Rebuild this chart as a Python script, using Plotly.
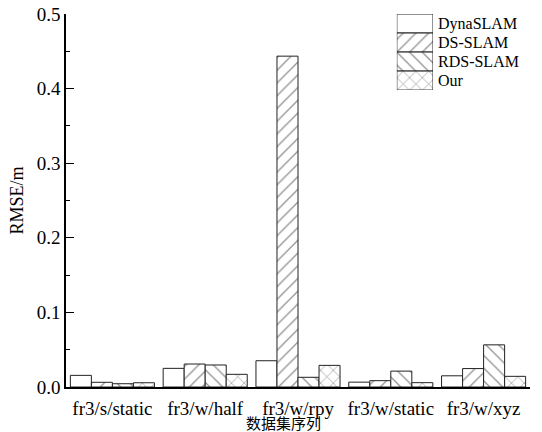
import plotly.graph_objects as go

categories = ["fr3/s/static", "fr3/w/half", "fr3/w/rpy", "fr3/w/static", "fr3/w/xyz"]
series_names = ["DynaSLAM", "DS-SLAM", "RDS-SLAM", "Our"]
dynaslam = [0.0156, 0.0250, 0.0352, 0.0065, 0.0150]
ds_slam = [0.0063, 0.0308, 0.4435, 0.0085, 0.0247]
rds_slam = [0.0044, 0.0295, 0.0130, 0.0213, 0.0565]
ours = [0.0057, 0.0170, 0.0290, 0.0058, 0.0143]
y_ticks = [0.0, 0.1, 0.2, 0.3, 0.4, 0.5]

series_values = [dynaslam, ds_slam, rds_slam, ours]
patterns = ["", "/", "\\", "x"]

SERIF = "Liberation Serif, Times New Roman, Noto Sans CJK SC, serif"
PAT = dict(fgcolor="#222", bgcolor="white", size=9, solidity=0.14)

fig = go.Figure()
for name, vals, pat in zip(series_names, series_values, patterns):
    fig.add_trace(go.Bar(
        x=categories, y=vals, name=name, showlegend=False,
        marker=dict(color="white", line=dict(color="#222", width=1),
                    pattern=dict(shape=pat, **PAT)),
    ))

# legend drawn as a small bar subplot with large hatched swatches
fig.add_trace(go.Bar(
    x=[1] * len(series_names), y=series_names, orientation="h", width=1,
    showlegend=False, xaxis="x2", yaxis="y2", hoverinfo="skip",
    marker=dict(color="white", line=dict(color="#222", width=1),
                pattern=dict(shape=patterns, **PAT)),
))

fig.update_layout(
    width=542, height=432,
    margin=dict(l=66, r=12, t=14, b=45, autoexpand=False),
    paper_bgcolor="white", plot_bgcolor="white",
    barmode="group", bargap=0.094, bargroupgap=0,
    font=dict(family=SERIF, color="black", size=19),
    xaxis=dict(
        categoryorder="array", categoryarray=categories, automargin=False,
        range=[-0.5, 4.5], showline=True, linecolor="black", linewidth=1.5,
        ticks="", showgrid=False, zeroline=False, ticklabelstandoff=3,
        tickfont=dict(size=19, family=SERIF),
    ),
    yaxis=dict(
        range=[0, 0.5], tickvals=y_ticks, tickformat=".1f", automargin=False,
        showline=True, linecolor="black", linewidth=1.5,
        ticks="inside", ticklen=8, tickwidth=1.2, tickcolor="black",
        minor=dict(ticks="inside", ticklen=4, dtick=0.05, tickcolor="black", tickwidth=1.2),
        showgrid=False, zeroline=False,
        tickfont=dict(size=19, family=SERIF),
        title=dict(text="RMSE/m", font=dict(size=18, family=SERIF), standoff=8),
    ),
    xaxis2=dict(domain=[0.713, 0.791], range=[0, 1], visible=False, anchor="y2",
                automargin=False),
    yaxis2=dict(domain=[0.796, 1.0], anchor="x2", side="right", autorange="reversed",
                tickmode="array", tickvals=series_names, ticktext=series_names,
                showline=False, ticks="", showgrid=False, zeroline=False,
                ticklabelstandoff=4, automargin=False,
                tickfont=dict(size=16, family=SERIF)),
    annotations=[dict(
        text="数据集序列", xref="paper", yref="paper", x=0.468, y=-0.094,
        xanchor="center", yanchor="middle", showarrow=False,
        font=dict(size=15, family="Noto Sans CJK SC", color="black"),
    )],
)

fig.write_html("out.html", config={"displayModeBar": False},
               post_script="document.body.style.margin='0';")
